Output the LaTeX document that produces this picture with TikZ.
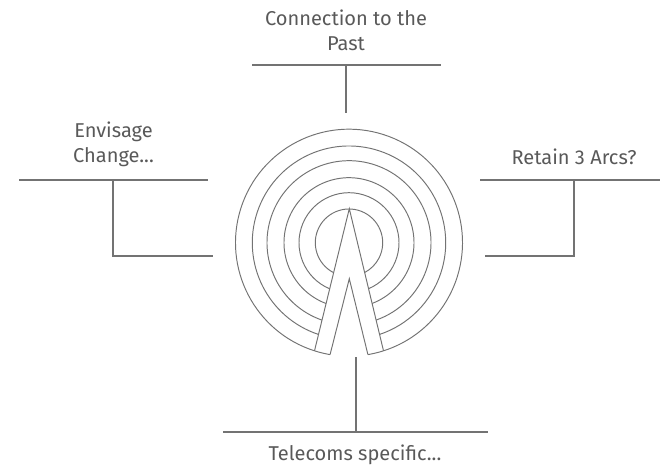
\documentclass[tikz,border=0pt]{standalone}
\usepackage{fontspec}
\setmainfont{Fira Sans}
\definecolor{linegray}{gray}{.45}
\definecolor{textgray}{gray}{.35}
\tikzset{font=\fontsize{11.4}{14.2}\selectfont}
\tikzset{label/.style={align=center,text=textgray,inner sep=0pt}}
\tikzset{bar/.style={draw=linegray,line width=1.3pt}}
\tikzset{ring/.style={draw=linegray,line width=.55pt}}
\begin{document}
\begin{tikzpicture}[x=.2mm,y=.2mm]
\useasboundingbox (0,0) rectangle (660,471);
\coordinate (c) at (349,228.3);
% rings
\foreach \r/\a in {33.7/27.2, 50/22.8, 65/20.7, 82/19.2, 96.7/18.4, 113.5/17.7}
\draw[ring] (c) ++(270-\a:\r) arc[start angle=270-\a,end angle=-90+\a,radius=\r];
% mast
\coordinate (apex) at (349.3,262.3);
\coordinate (inapex) at (349.3,192.3);
\draw[ring] (c) ++(252.3:113.5) coordinate (footl) arc[start angle=252.3,end angle=260.4,radius=113.5] coordinate (innerl);
\draw[ring] (c) ++(279.6:113.5) coordinate (innerr) arc[start angle=279.6,end angle=287.7,radius=113.5] coordinate (footr);
\draw[ring] (footl) -- (apex) -- (footr);
\draw[ring] (innerl) -- (inapex) -- (innerr);
% labels
\node[label] (past) at (346,441) {Connection to the\\Past};
\node[label] (change) at (113.5,327) {Envisage\\Change...};
\node[label] (arcs) at (574,314) {Retain 3 Arcs?};
\node[label] (telecoms) at (355,16) {Telecoms specific...};
% top
\coordinate (pastl) at (252,406);
\coordinate (pastr) at (441,406);
\coordinate (pastm) at (346,406);
\coordinate (pastend) at (346,358);
\draw[bar] (pastl) -- (pastr);
\draw[bar] (pastm) -- (pastend);
% left
\coordinate (changel) at (19,291);
\coordinate (changer) at (208,291);
\coordinate (changem) at (113,291);
\coordinate (changeend) at (213,215);
\draw[bar] (changel) -- (changer);
\draw[bar] (changem) |- (changeend);
% right
\coordinate (arcsl) at (480,291);
\coordinate (arcsr) at (660,291);
\coordinate (arcsm) at (574,291);
\coordinate (arcsend) at (485,215);
\draw[bar] (arcsl) -- (arcsr);
\draw[bar] (arcsm) |- (arcsend);
% bottom
\coordinate (telel) at (223,39);
\coordinate (teler) at (488,39);
\coordinate (telem) at (356,39);
\coordinate (teleend) at (356,114);
\draw[bar] (telel) -- (teler);
\draw[bar] (telem) -- (teleend);
\end{tikzpicture}
\end{document}
